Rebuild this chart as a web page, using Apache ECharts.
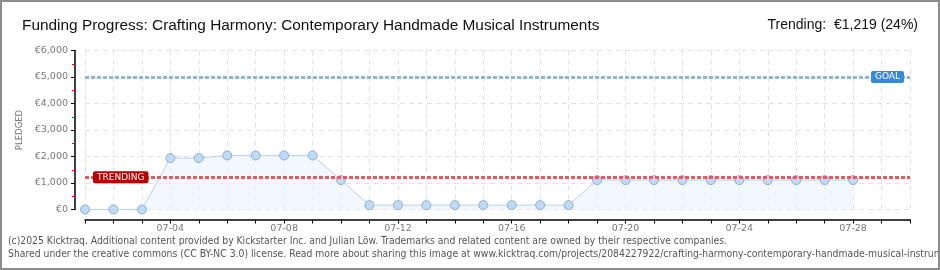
<!DOCTYPE html>
<html>
<head>
<meta charset="utf-8">
<script src="https://cdn.jsdelivr.net/npm/echarts@6/dist/echarts.min.js"></script>
<style>
html,body{margin:0;padding:0;background:#fff;}
#wrap{position:relative;width:940px;height:270px;}
#chart{position:absolute;left:0;top:0;width:940px;height:270px;}
#frame{position:absolute;left:0;top:0;width:940px;height:270px;box-sizing:border-box;border:2px solid #8c8c8c;pointer-events:none;}
</style>
</head>
<body>
<div id="wrap"><div id="chart"></div><div id="frame"></div></div>
<script>
const categories = ['07-01','07-02','07-03','07-04','07-05','07-06','07-07','07-08','07-09','07-10',
  '07-11','07-12','07-13','07-14','07-15','07-16','07-17','07-18','07-19','07-20',
  '07-21','07-22','07-23','07-24','07-25','07-26','07-27','07-28','07-29','07-30'];
const pledged = [0,0,0,1940,1940,2040,2040,2040,2040,1110,
  165,165,165,165,165,165,165,165,1110,1110,
  1110,1110,1110,1110,1110,1110,1110,1110];
const goal = 5000;
const trending = 1219;
const titleText = 'Funding Progress: Crafting Harmony: Contemporary Handmade Musical Instruments';
const trendText = 'Trending:  €1,219 (24%)';
const footer1 = '(c)2025 Kicktraq. Additional content provided by Kickstarter Inc. and Julian Löw. Trademarks and related content are owned by their respective companies.';
const footer2 = 'Shared under the creative commons (CC BY-NC 3.0) license. Read more about sharing this image at www.kicktraq.com/projects/2084227922/crafting-harmony-contemporary-handmade-musical-instruments/';

const chart = echarts.init(document.getElementById('chart'));
const font = 'DejaVu Sans';
chart.setOption({
  animation: false,
  backgroundColor: '#fff',
  title: [
    {text: titleText, left: 17, top: 13, textStyle: {fontFamily: 'Liberation Sans', fontSize: 15.4, fontWeight: 'normal', color: '#111'}},
    {text: trendText, right: 17, top: 13, textStyle: {fontFamily: 'Liberation Sans', fontSize: 14, fontWeight: 'normal', color: '#111'}}
  ],
  grid: {left: 85, right: 30, top: 50.5, bottom: 60.5, containLabel: false},
  xAxis: {
    type: 'category', data: categories, boundaryGap: false, offset: 10,
    axisLine: {onZero: false, lineStyle: {color: '#000', width: 1.5}},
    axisTick: {interval: 0, length: 4, lineStyle: {color: '#000'}},
    axisLabel: {interval: (i) => i % 4 === 3, color: '#777', fontFamily: font, fontSize: 9.5, margin: 4},
    splitLine: {show: true, interval: 0, lineStyle: {color: '#e2e2e2', type: [5,4]}}
  },
  yAxis: {
    type: 'value', min: 0, max: 6000, interval: 1000, offset: 10,
    name: 'PLEDGED', nameLocation: 'middle', nameGap: 50, nameRotate: 90,
    nameTextStyle: {color: '#777', fontFamily: font, fontSize: 8.5},
    axisLine: {show: true, onZero: false, lineStyle: {color: '#000', width: 1.5}},
    axisTick: {show: true, length: 4, lineStyle: {color: '#000'}},
    minorTick: {show: true, splitNumber: 2, length: 3, lineStyle: {color: '#e00'}},
    axisLabel: {color: '#777', fontFamily: font, fontSize: 9.5, margin: 7,
      formatter: (v) => '€' + v.toLocaleString('en-US')},
    splitLine: {show: true, lineStyle: {color: '#e2e2e2', type: [5,4]}}
  },
  series: [{
    type: 'line', data: pledged,
    symbol: 'circle', symbolSize: 9,
    itemStyle: {color: '#bfdaf6', borderColor: '#90aed2', borderWidth: 1},
    lineStyle: {color: '#b5d2f0', width: 1},
    areaStyle: {color: '#edf5fd'},
    markLine: {
      silent: true, symbol: 'none',
      data: [
        {yAxis: goal, lineStyle: {color: '#8fb4e0', width: 3, type: [4,2]},
         label: {show: true, formatter: 'GOAL', position: 'insideEnd', distance: [6, 0], verticalAlign: 'middle',
           backgroundColor: '#3a88d8', color: '#fff', fontFamily: font, fontSize: 9, padding: [2,4,1,4], borderRadius: 2}},
        {yAxis: trending, lineStyle: {color: '#d9605d', width: 3, type: [4,2]},
         label: {show: true, formatter: 'TRENDING', position: 'insideStart', distance: [8, 0], verticalAlign: 'middle',
           backgroundColor: '#b80000', color: '#fff', fontFamily: font, fontSize: 9, padding: [2,4,1,4], borderRadius: 2}}
      ]
    }
  }],
  graphic: [
    {type: 'text', left: 8, top: 236, style: {text: footer1, fontFamily: 'DejaVu Sans Condensed', fontSize: 10.3, fill: '#555'}},
    {type: 'text', left: 8, top: 249, style: {text: footer2, fontFamily: 'DejaVu Sans Condensed', fontSize: 10.3, fill: '#555'}}
  ]
});
</script>
</body>
</html>
